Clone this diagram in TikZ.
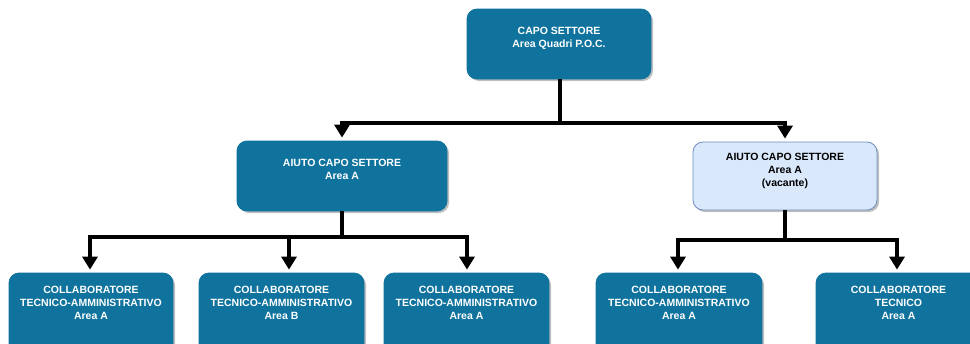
\documentclass[tikz,border=0pt]{standalone}
\usepackage{fontspec}
\setmainfont{Liberation Sans}
\usetikzlibrary{arrows.meta,shadows}
\definecolor{boxblue}{HTML}{10739E}
\definecolor{lightfill}{HTML}{DAE8FC}
\definecolor{lightstroke}{HTML}{6C8EBF}
\begin{document}
\begin{tikzpicture}[x=1pt,y=1pt,
  box/.style={rectangle,rounded corners=10pt,fill=boxblue,draw=boxblue,line width=0.8pt,
    drop shadow={shadow xshift=2pt,shadow yshift=-2pt,opacity=0.25,fill=black},
    minimum height=70pt,inner sep=0pt},
  vacant/.style={box,fill=lightfill,draw=lightstroke},
  low/.style={box,minimum height=80pt},
  lbl/.style={anchor=north,inner sep=0pt,align=center,text=white,
    font=\fontsize{10.5pt}{12.8pt}\selectfont\bfseries},
  lbldark/.style={lbl,text=black},
  arr/.style={line width=4pt,-{Triangle[width=15pt,length=13pt]},shorten >=3pt},
  ln/.style={line width=4pt}]
\useasboundingbox (0,0) rectangle (970,-343);
% boxes
\node[box,minimum width=184pt] (B0) at (559,-44) {};
\node[box,minimum width=210pt] (L) at (342,-176) {};
\node[vacant,minimum width=184pt,minimum height=68pt] (R) at (785,-176) {};
\node[low,minimum width=164pt] (b1) at (91,-313) {};
\node[low,minimum width=165pt] (b2) at (281.5,-313) {};
\node[low,minimum width=165pt] (b3) at (466.5,-313) {};
\node[low,minimum width=166pt] (b4) at (679,-313) {};
\node[low,minimum width=165pt] (b5) at (898.5,-313) {};
% labels
\node[lbl] (t0) at (559,-27) {CAPO SETTORE\\Area Quadri P.O.C.};
\node[lbl] (tL) at (342,-159) {AIUTO CAPO SETTORE\\Area A};
\node[lbldark] (tR) at (785,-153) {AIUTO CAPO SETTORE\\Area A\\(vacante)};
\node[lbl] (t1) at (91,-286) {COLLABORATORE\\TECNICO-AMMINISTRATIVO\\Area A};
\node[lbl] (t2) at (281.5,-286) {COLLABORATORE\\TECNICO-AMMINISTRATIVO\\Area B};
\node[lbl] (t3) at (466.5,-286) {COLLABORATORE\\TECNICO-AMMINISTRATIVO\\Area A};
\node[lbl] (t4) at (679,-286) {COLLABORATORE\\TECNICO-AMMINISTRATIVO\\Area A};
\node[lbl] (t5) at (898.5,-286) {COLLABORATORE\\TECNICO\\Area A};
% junctions
\coordinate (j0) at (560,-123);
\coordinate (jL) at (342,-237);
\coordinate (jR) at (785,-240);
% connectors
\draw[ln] (B0.south -| j0) -- (j0);
\draw[arr] (j0) -| (L.north);
\draw[arr] (j0) -| (R.north);
\draw[ln] (L.south) -- (jL);
\draw[arr] (jL) -| ([xshift=-1pt]b1.north);
\draw[arr] (jL) -| ([xshift=7.5pt]b2.north);
\draw[arr] (jL) -| ([xshift=0.5pt]b3.north);
\draw[ln] (R.south) -- (jR);
\draw[arr] (jR) -| ([xshift=-1pt]b4.north);
\draw[arr] (jR) -| ([xshift=-1.5pt]b5.north);
\end{tikzpicture}
\end{document}
